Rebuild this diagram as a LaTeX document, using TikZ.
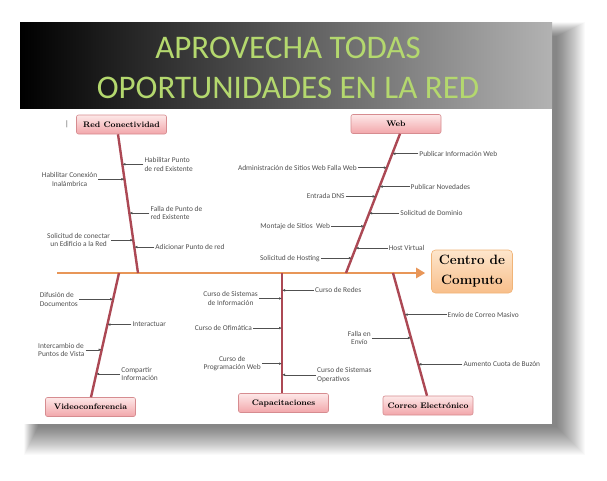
\documentclass[tikz,border=0pt]{standalone}
\usepackage{fontspec}
\newfontfamily\calibri{Carlito}
\usetikzlibrary{positioning,calc,arrows.meta}
\definecolor{bonecol}{RGB}{172,72,84}
\definecolor{spinecol}{RGB}{232,150,88}
\definecolor{titlegreen}{RGB}{180,216,110}
\definecolor{labelgray}{RGB}{80,80,80}
\definecolor{pinktop}{RGB}{253,232,232}
\definecolor{pinkbot}{RGB}{242,166,170}
\definecolor{pinkline}{RGB}{214,140,144}
\definecolor{orangetop}{RGB}{253,230,204}
\definecolor{orangebot}{RGB}{248,190,138}
\definecolor{orangeline}{RGB}{240,180,120}
\begin{document}
\begin{tikzpicture}[x=1pt, y=-1pt,
    catbox/.style={draw=pinkline, rounded corners=2pt, top color=pinktop, bottom color=pinkbot, minimum width=90pt, minimum height=19pt, font=\fontsize{8}{9}\selectfont\bfseries, line width=0.6pt},
    headbox/.style={draw=orangeline, rounded corners=4pt, top color=orangetop, bottom color=orangebot, minimum width=81pt, minimum height=43pt, align=center, font=\fontsize{13.5}{20}\selectfont\bfseries, line width=0.6pt},
    bone/.style={draw=bonecol, line width=2.4pt},
    spine/.style={draw=spinecol, line width=2.6pt, -{Triangle[length=9pt,width=10pt]}, shorten >=6pt},
    lbl/.style={font=\calibri\fontsize{7.4}{8.6}\selectfont, text=labelgray, inner sep=1pt, align=center},
    sub/.style={-{Latex[length=3pt,width=2.6pt]}, draw=labelgray, line width=0.5pt}
]
\useasboundingbox (0,0) rectangle (607,480);
\fill[white] (0,0) rectangle (607,480);

% slide shadow and slide
\foreach \d in {0,1,...,28}
  \fill[black, opacity=0.018] (38-\d*0.5,36-\d*0.5) rectangle (557+\d,427+\d);
\fill[white] (20,22) rectangle (552,424);
\shade[left color=black, middle color=black!55, right color=black!30] (20,22) rectangle (552,108);
\node[font=\calibri\fontsize{33}{40}\selectfont, text=titlegreen, align=center] (title) at (288,68) {APROVECHA TODAS\\OPORTUNIDADES EN LA RED};

% head and spine
\node[headbox] (head) at (472,271.5) {Centro de\\Computo};
\coordinate (tail) at (57,273);
\draw[spine] (tail) -- (tail -| head.west);

% categories
\node[catbox] (red) at (121.5,124.5) {Red Conectividad};
\node[catbox] (web) at (396,124) {Web};
\node[catbox] (video) at (90.5,407) {Videoconferencia};
\node[catbox] (capa) at (283.5,403) {Capacitaciones};
\node[catbox] (correo) at (428,405.5) {Correo Electrónico};
\node[font=\calibri\fontsize{8}{8}\selectfont, text=labelgray] (mark) at (67,124) {|};

% bones
\coordinate (rT) at ([xshift=-3.5pt]red.south);
\coordinate (rB) at (138,273);
\coordinate (wT) at ([xshift=4pt]web.south);
\coordinate (wB) at (346,273);
\coordinate (vT) at (119,273);
\coordinate (vB) at ([xshift=0.5pt]video.north);
\coordinate (cT) at (282,273);
\coordinate (cB) at ([xshift=-1.5pt]capa.north);
\coordinate (eT) at (393,273);
\coordinate (eB) at ([xshift=-1pt]correo.north);
\draw[bone] (rT) -- (rB);
\draw[bone] (wT) -- (wB);
\draw[bone] (vT) -- (vB);
\draw[bone] (cT) -- (cB);
\draw[bone] (eT) -- (eB);

% Red Conectividad
\coordinate (r1p) at ($(rT)!0.216!(rB)$);
\node[lbl, right=21pt of r1p, align=left] (r1) {Habilitar Punto\\de red Existente};
\draw[sub] (r1) -- (r1p);
\coordinate (r2p) at ($(rT)!0.324!(rB)$);
\node[lbl, left=26pt of r2p] (r2) {Habilitar Conexión\\Inalámbrica};
\draw[sub] (r2) -- (r2p);
\coordinate (r3p) at ($(rT)!0.568!(rB)$);
\node[lbl, right=20pt of r3p, align=left] (r3) {Falla de Punto de\\red Existente};
\draw[sub] (r3) -- (r3p);
\coordinate (r4p) at ($(rT)!0.763!(rB)$);
\node[lbl, left=22pt of r4p] (r4) {Solicitud de conectar\\un Edificio a la Red};
\draw[sub] (r4) -- (r4p);
\coordinate (r5p) at ($(rT)!0.813!(rB)$);
\node[lbl, right=20pt of r5p] (r5) {Adicionar Punto de red};
\draw[sub] (r5) -- (r5p);

% Web
\coordinate (w1p) at ($(wT)!0.143!(wB)$);
\node[lbl, right=26pt of w1p] (w1) {Publicar Información Web};
\draw[sub] (w1) -- (w1p);
\coordinate (w2p) at ($(wT)!0.243!(wB)$);
\node[lbl, left=29pt of w2p] (w2) {Administración de Sitios Web Falla Web};
\draw[sub] (w2) -- (w2p);
\coordinate (w3p) at ($(wT)!0.379!(wB)$);
\node[lbl, right=30pt of w3p] (w3) {Publicar Novedades};
\draw[sub] (w3) -- (w3p);
\coordinate (w4p) at ($(wT)!0.45!(wB)$);
\node[lbl, left=30pt of w4p] (w4) {Entrada DNS};
\draw[sub] (w4) -- (w4p);
\coordinate (w5p) at ($(wT)!0.571!(wB)$);
\node[lbl, right=30pt of w5p] (w5) {Solicitud de Dominio};
\draw[sub] (w5) -- (w5p);
\coordinate (w6p) at ($(wT)!0.664!(wB)$);
\node[lbl, left=33pt of w6p] (w6) {Montaje de Sitios~ Web};
\draw[sub] (w6) -- (w6p);
\coordinate (w7p) at ($(wT)!0.821!(wB)$);
\node[lbl, right=32pt of w7p] (w7) {Host Virtual};
\draw[sub] (w7) -- (w7p);
\coordinate (w8p) at ($(wT)!0.893!(wB)$);
\node[lbl, left=31pt of w8p] (w8) {Solicitud de Hosting};
\draw[sub] (w8) -- (w8p);

% Videoconferencia
\coordinate (v1p) at ($(vT)!0.211!(vB)$);
\node[lbl, left=34pt of v1p, align=left] (v1) {Difusión de\\Documentos};
\draw[sub] (v1) -- (v1p);
\coordinate (v2p) at ($(vT)!0.415!(vB)$);
\node[lbl, right=24pt of v2p] (v2) {Interactuar};
\draw[sub] (v2) -- (v2p);
\coordinate (v3p) at ($(vT)!0.618!(vB)$);
\node[lbl, left=16pt of v3p, align=left] (v3) {Intercambio de\\Puntos de Vista};
\draw[sub] (v3) -- (v3p);
\coordinate (v4p) at ($(vT)!0.813!(vB)$);
\node[lbl, right=24pt of v4p, align=left] (v4) {Compartir\\Información};
\draw[sub] (v4) -- (v4p);

% Capacitaciones
\coordinate (c1p) at ($(cT)!0.144!(cB)$);
\node[lbl, right=32pt of c1p] (c1) {Curso de Redes};
\draw[sub] (c1) -- (c1p);
\coordinate (c2p) at ($(cT)!0.212!(cB)$);
\node[lbl, left=23pt of c2p] (c2) {Curso de Sistemas\\de Información};
\draw[sub] (c2) -- (c2p);
\coordinate (c3p) at ($(cT)!0.458!(cB)$);
\node[lbl, left=29pt of c3p] (c3) {Curso de Ofimática};
\draw[sub] (c3) -- (c3p);
\coordinate (c4p) at ($(cT)!0.754!(cB)$);
\node[lbl, left=20pt of c4p] (c4) {Curso de\\Programación Web};
\draw[sub] (c4) -- (c4p);
\coordinate (c5p) at ($(cT)!0.847!(cB)$);
\node[lbl, right=34pt of c5p, align=left] (c5) {Curso de Sistemas\\Operativos};
\draw[sub] (c5) -- (c5p);

% Correo Electronico
\coordinate (e1p) at ($(eT)!0.339!(eB)$);
\node[lbl, right=42pt of e1p] (e1) {Envío de Correo Masivo};
\draw[sub] (e1) -- (e1p);
\coordinate (e2p) at ($(eT)!0.529!(eB)$);
\node[lbl, left=39pt of e2p] (e2) {Falla en\\Envío};
\draw[sub] (e2) -- (e2p);
\coordinate (e3p) at ($(eT)!0.744!(eB)$);
\node[lbl, right=44pt of e3p] (e3) {Aumento Cuota de Buzón};
\draw[sub] (e3) -- (e3p);
\end{tikzpicture}
\end{document}
